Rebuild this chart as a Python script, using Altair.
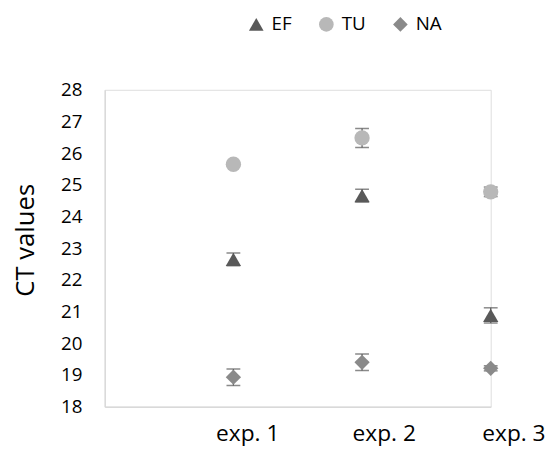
import altair as alt
import pandas as pd

series = ["EF", "TU", "NA"]
experiments = [1, 2, 3]
exp_labels = ["exp. 1", "exp. 2", "exp. 3"]
ef_values = [22.65, 24.66, 20.88]
tu_values = [25.65, 26.48, 24.78]
na_values = [18.93, 19.40, 19.21]
ef_err = [0.20, 0.20, 0.24]
tu_err = [0.05, 0.30, 0.15]
na_err = [0.26, 0.26, 0.08]

rows = []
for s, vals, errs in [("EF", ef_values, ef_err), ("TU", tu_values, tu_err), ("NA", na_values, na_err)]:
    for e, v, er in zip(experiments, vals, errs):
        rows.append({"series": s, "exp": e, "value": v, "err": er})
df = pd.DataFrame(rows)

colors = ["#595959", "#b8b8b8", "#8a8a8a"]
shapes = ["triangle-up", "circle", "diamond"]
FONT = "Open Sans"

xenc = alt.X(
    "exp:Q",
    scale=alt.Scale(domain=[0, 3], nice=False),
    axis=alt.Axis(
        values=experiments,
        labelExpr="'exp. ' + datum.value",
        title=None,
        ticks=False,
        grid=False,
        domainColor="#d9d9d9",
        domainWidth=1.5,
        labelFont=FONT,
        labelFontSize=23,
        labelColor="#000000",
        labelPadding=16,
        labelAlign="center",
        labelFlush=False,
        labelOffset={"condition": [{"test": "datum.value == 1", "value": 14},
                                   {"test": "datum.value == 2", "value": 22}],
                     "value": 23},
    ),
)

yenc = alt.Y(
    "value:Q",
    scale=alt.Scale(domain=[18, 28], nice=False, zero=False),
    axis=alt.Axis(
        values=list(range(18, 29)),
        title="CT values",
        titleFont=FONT,
        titleFontSize=26,
        titleFontWeight="normal",
        titleColor="#000000",
        titlePadding=22,
        titleY=152,
        ticks=False,
        grid=False,
        domainColor="#d9d9d9",
        domainWidth=1.5,
        labelFont=FONT,
        labelFontSize=19,
        labelColor="#000000",
        labelPadding=23,
        labelFlush=False,
    ),
)

base = alt.Chart(df)

errbars = base.mark_errorbar(ticks={"size": 14, "color": "#595959", "thickness": 1.5}, color="#595959", thickness=1.2).encode(
    x=xenc,
    y=yenc,
    yError="err:Q",
)

points = base.mark_point(filled=True, opacity=1, size=240).encode(
    x=xenc,
    y=yenc,
    color=alt.Color(
        "series:N",
        scale=alt.Scale(domain=series, range=colors),
        legend=alt.Legend(
            title=None,
            orient="none",
            direction="horizontal",
            legendX=144,
            legendY=-76,
            labelFont=FONT,
            labelFontSize=19,
            labelColor="#000000",
            symbolSize=220,
            columnPadding=25,
            labelOffset=6,
            symbolStrokeWidth=0,
        ),
    ),
    shape=alt.Shape("series:N", scale=alt.Scale(domain=series, range=shapes), legend=None),
)

chart = (
    alt.layer(errbars, points)
    .properties(
        width=391,
        height=321,
        padding={"left": 98, "top": 80, "right": 56, "bottom": 38},
        autosize=alt.AutoSizeParams(type="none"),
    )
    .configure_view(stroke=None)
    .configure(background="#ffffff")
)

chart.save("out.html", embed_options={"renderer": "svg", "actions": False})
